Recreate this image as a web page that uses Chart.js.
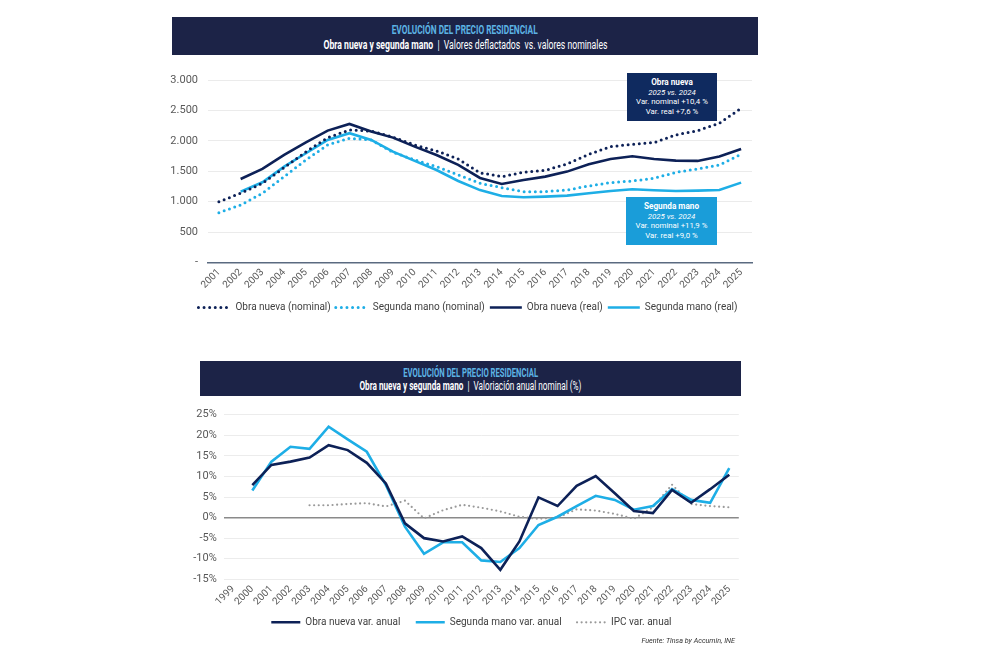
<!DOCTYPE html>
<html>
<head>
<meta charset="utf-8">
<script src="https://cdn.jsdelivr.net/npm/chart.js@4.4.1/dist/chart.umd.min.js"></script>
<style>
  html,body{margin:0;padding:0;background:#fff;}
  body{width:996px;height:661px;position:relative;overflow:hidden;font-family:Roboto,"Noto Sans",sans-serif;}
  .hdr{position:absolute;background:#1c2347;color:#fff;text-align:center;white-space:nowrap;}
  .hdr .line{position:absolute;left:0;right:0;text-align:center;}
  .hdr .fit{display:inline-block;transform-origin:center center;}
  .hdr .t{color:#5cb3e4;font-weight:bold;font-size:12px;}
  .hdr .s{font-size:12.5px;color:#fff;}
  .box{position:absolute;color:#fff;text-align:center;font-size:7.8px;line-height:9.6px;box-sizing:border-box;padding-top:5px;}
  .box b{font-size:8.2px;}
  canvas{position:absolute;}
  .src{position:absolute;font-size:7.2px;font-style:italic;color:#333;text-align:right;}
</style>
</head>
<body>
<div class="hdr" style="left:172px;top:17px;width:586px;height:38px;">
  <div class="line" style="top:2px;"><span class="fit t" data-w="146">EVOLUCIÓN DEL PRECIO RESIDENCIAL</span></div>
  <div class="line" style="top:17px;"><span class="fit s" data-w="284"><b>Obra nueva y segunda mano</b> &nbsp;|&nbsp; Valores deflactados &nbsp;vs. valores nominales</span></div>
</div>
<div class="hdr" style="left:200px;top:361px;width:541px;height:35px;">
  <div class="line" style="top:1px;"><span class="fit t" data-w="135">EVOLUCIÓN DEL PRECIO RESIDENCIAL</span></div>
  <div class="line" style="top:14px;"><span class="fit s" data-w="222"><b>Obra nueva y segunda mano</b> &nbsp;|&nbsp; Valoriación anual nominal (%)</span></div>
</div>

<canvas id="c1" width="634" height="270" style="left:150px;top:60px;width:634px;height:270px;"></canvas>
<canvas id="c2" width="584" height="261" style="left:180px;top:400px;width:584px;height:261px;"></canvas>

<div class="box" style="left:627px;top:73px;width:90px;height:48px;background:#0f2a5f;">
  <b>Obra nueva</b><br><i>2025 vs. 2024</i><br>Var. nominal +10,4 %<br>Var. real +7,6 %
</div>
<div class="box" style="left:626px;top:197px;width:91px;height:48px;background:#1a9dd9;">
  <b>Segunda mano</b><br><i>2025 vs. 2024</i><br>Var. nominal +11,9 %<br>Var. real +9,0 %
</div>
<div class="src" style="left:600px;top:636px;width:135px;">Fuente: Tinsa by Accumin, INE</div>

<script>
// ---------- DATA: top chart (EUR/m2) ----------
const yearsTop = ['2001','2002','2003','2004','2005','2006','2007','2008','2009','2010','2011','2012','2013','2014','2015','2016','2017','2018','2019','2020','2021','2022','2023','2024','2025'];
const obraNuevaNominal   = [1000,1138,1302,1560,1820,2053,2179,2160,2060,1933,1834,1702,1475,1412,1483,1516,1620,1779,1905,1944,1971,2097,2168,2289,2536];
const segundaManoNominal = [819,946,1138,1412,1686,1933,2042,2015,1812,1686,1576,1439,1302,1231,1165,1165,1192,1258,1313,1340,1384,1483,1538,1604,1779];
const obraNuevaReal      = [null,1373,1538,1768,1976,2168,2278,2152,2053,1905,1768,1604,1390,1291,1357,1412,1494,1615,1702,1746,1702,1675,1670,1741,1867];
const segundaManoReal    = [null,1165,1319,1576,1796,2015,2125,2015,1822,1670,1521,1340,1190,1094,1072,1083,1099,1138,1176,1204,1188,1176,1182,1192,1313];
const topLegend = ['Obra nueva (nominal)','Segunda mano (nominal)','Obra nueva (real)','Segunda mano (real)'];

// ---------- DATA: bottom chart (% annual change) ----------
const yearsBottom = ['1999','2000','2001','2002','2003','2004','2005','2006','2007','2008','2009','2010','2011','2012','2013','2014','2015','2016','2017','2018','2019','2020','2021','2022','2023','2024','2025'];
const obraNuevaVar   = [null,7.9,12.8,13.6,14.6,17.6,16.4,13.3,8.3,-1.4,-5.0,-5.8,-4.6,-7.4,-12.7,-5.8,4.9,2.8,7.7,10.1,5.9,1.6,1.1,6.7,3.6,6.9,10.4];
const segundaManoVar = [null,6.6,13.6,17.2,16.7,22.1,19.0,16.0,7.9,-2.2,-8.8,-6.0,-6.0,-10.4,-10.8,-7.4,-1.8,0.2,2.8,5.3,4.3,1.9,2.8,6.9,4.3,3.6,12.0];
const ipcVar         = [null,null,null,null,3.0,3.0,3.3,3.5,2.7,4.1,-0.2,1.8,3.1,2.4,1.5,0.2,-0.3,0.0,2.0,1.7,0.9,-0.3,2.5,8.0,3.3,2.8,2.5];
const bottomLegend = ['Obra nueva var. anual','Segunda mano var. anual','IPC var. anual'];

// ---------- styles ----------
const DARK = '#0d2157';
const LIGHT = '#1eaee6';
const GREY = '#9a9a9a';
const FONT = 'Roboto, "Noto Sans", sans-serif';

document.querySelectorAll('.fit').forEach(el => {
  const w = el.getBoundingClientRect().width;
  el.style.transform = 'scaleX(' + (parseFloat(el.dataset.w) / w) + ')';
});

function thousands(v) {
  if (v === 0) return '-';
  const s = String(Math.round(v));
  return s.length > 3 ? s.slice(0, s.length - 3) + '.' + s.slice(-3) : s;
}

const dotted = (color, w, gap) => ({borderColor: color, backgroundColor: color, borderWidth: w, borderDash: [0, gap], borderCapStyle: 'round', pointRadius: 0, fill: false, tension: 0});
const solid = (color, w) => ({borderColor: color, backgroundColor: color, borderWidth: w, borderDash: [], borderCapStyle: 'butt', pointRadius: 0, fill: false, tension: 0});

function legendItems(extraSpaces) {
  return chart => chart.data.datasets.map((ds, i) => ({
    text: ds.label + (extraSpaces && i < chart.data.datasets.length - 1 ? extraSpaces : ''),
    fillStyle: ds.borderColor,
    strokeStyle: ds.borderColor,
    lineWidth: ds.borderWidth,
    lineDash: ds.borderDash,
    lineCap: ds.borderCapStyle,
    pointStyle: 'line',
    fontColor: '#404040',
    hidden: false,
    datasetIndex: i
  }));
}

// nudges the centred legend horizontally (legend is centred on the canvas box, not the plot)
const legendShift = {
  id: 'legendShift',
  afterLayout(chart, args, opts) {
    if (chart.legend) { chart.legend.left += opts.dx || 0; chart.legend.right += opts.dx || 0; }
  }
};

new Chart(document.getElementById('c1'), {
  type: 'line',
  data: {
    labels: yearsTop,
    datasets: [
      Object.assign({label: topLegend[0], data: obraNuevaNominal}, dotted(DARK, 3, 5.6)),
      Object.assign({label: topLegend[1], data: segundaManoNominal}, dotted(LIGHT, 3, 5.6)),
      Object.assign({label: topLegend[2], data: obraNuevaReal}, solid(DARK, 2.6)),
      Object.assign({label: topLegend[3], data: segundaManoReal}, solid(LIGHT, 2.6))
    ]
  },
  plugins: [legendShift],
  options: {
    responsive: false, animation: false, devicePixelRatio: 1,
    layout: {padding: {top: 20, right: 32, left: 0, bottom: 7.5}},
    plugins: {
      tooltip: {enabled: false},
      legendShift: {dx: 17},
      legend: {
        position: 'bottom',
        labels: {usePointStyle: true, pointStyle: 'line', pointStyleWidth: 32, padding: 5, color: '#404040',
                 font: {family: FONT, size: 10}, generateLabels: legendItems('')}
      }
    },
    scales: {
      x: {
        offset: true,
        grid: {display: false, drawTicks: false},
        border: {display: true, color: '#5a6a80', width: 1.5},
        ticks: {autoSkip: false, minRotation: 45, maxRotation: 45, padding: 4, color: '#595959', font: {family: FONT, size: 10}},
        afterFit: s => { s.height = 35; }
      },
      y: {
        min: 0, max: 3000,
        grid: {color: '#ebebeb', drawTicks: false},
        border: {display: false},
        ticks: {stepSize: 500, padding: 10, color: '#595959', font: {family: FONT, size: 11}, callback: v => thousands(v)},
        afterFit: s => { s.width = 58; }
      }
    }
  }
});

new Chart(document.getElementById('c2'), {
  type: 'line',
  data: {
    labels: yearsBottom,
    datasets: [
      Object.assign({label: bottomLegend[0], data: obraNuevaVar}, solid(DARK, 2.6)),
      Object.assign({label: bottomLegend[1], data: segundaManoVar}, solid(LIGHT, 2.6)),
      Object.assign({label: bottomLegend[2], data: ipcVar}, dotted(GREY, 2.2, 4.6))
    ]
  },
  plugins: [legendShift],
  options: {
    responsive: false, animation: false, devicePixelRatio: 1,
    layout: {padding: {top: 14.7, right: 25.2, left: 0, bottom: 23.7}},
    plugins: {
      tooltip: {enabled: false},
      legendShift: {dx: 12},
      legend: {
        position: 'bottom',
        labels: {usePointStyle: true, pointStyle: 'line', pointStyleWidth: 29, padding: 8, color: '#404040',
                 font: {family: FONT, size: 10}, generateLabels: legendItems('   ')}
      }
    },
    scales: {
      x: {
        offset: true,
        grid: {display: false, drawTicks: false},
        border: {display: false},
        ticks: {autoSkip: false, minRotation: 45, maxRotation: 45, padding: 4, color: '#595959', font: {family: FONT, size: 10}},
        afterFit: s => { s.height = 30; }
      },
      y: {
        min: -15, max: 25,
        grid: {
          drawTicks: false,
          color: c => c.tick && c.tick.value === 0 ? '#8a8a8a' : '#ececec',
          lineWidth: c => c.tick && c.tick.value === 0 ? 1.6 : 1
        },
        border: {display: false},
        ticks: {stepSize: 5, padding: 7, color: '#595959', font: {family: FONT, size: 11}, callback: v => v + '%'},
        afterFit: s => { s.width = 43.7; }
      }
    }
  }
});
</script>
</body>
</html>
